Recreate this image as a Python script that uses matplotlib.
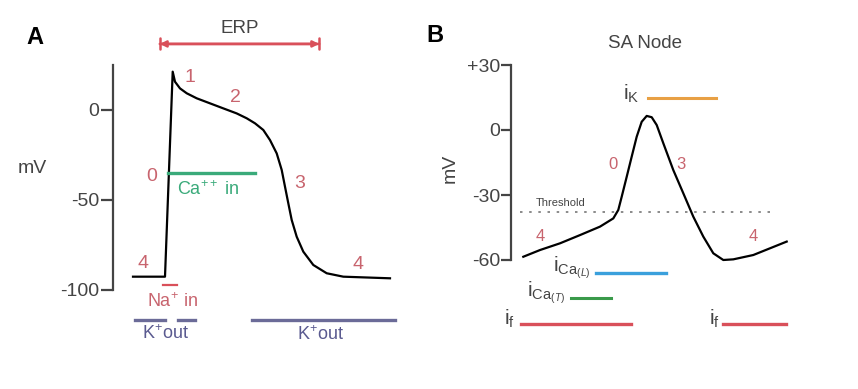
import numpy as np
import matplotlib
matplotlib.use("Agg")
import matplotlib.pyplot as plt

plt.rcParams['font.family'] = ['Liberation Sans', 'DejaVu Sans']
plt.rcParams['mathtext.fontset'] = 'custom'
plt.rcParams['mathtext.rm'] = 'Liberation Sans'
plt.rcParams['mathtext.it'] = 'Liberation Sans:italic'

# Panel A - ventricular action potential (time in ms, arbitrary origin)
t_a = [0, 32, 39.7, 42, 47, 53.7, 63.7, 77, 90.3, 103.7, 113.7, 122, 130.3, 137, 143.7, 148.7,
       152, 155.3, 158.7, 163.7, 170.3, 180.3, 193.7, 210.3, 257]
v_a = [-92.6, -92.6, 21.3, 15.7, 12.0, 9.3, 6.5, 3.7, 0.9, -1.9, -4.6, -7.4, -11.1, -16.7, -24.1, -33.3,
       -42.6, -51.8, -61.1, -70.4, -78.7, -86.1, -90.7, -92.6, -93.5]
a_ticks = [0, -50, -100]
a_ticklabels = ['0', '-50', '-100']

# Panel B - SA node action potential
t_b = [-1.7, 15, 35, 55, 75, 88.3, 93.3, 96.7, 101.7, 106.7, 111.7, 116.7, 121.7, 126.7, 131.7,
       138.3, 148.3, 158.3, 168.3, 178.3, 188.3, 198.3, 208.3, 228.3, 261.7]
v_b = [-58.5, -55.4, -52.3, -48.5, -44.6, -40.8, -36.9, -30.8, -21.6, -12.3, -3.1, 3.8, 6.5, 5.9, 2.3,
       -6.1, -18.5, -29.2, -40.0, -49.2, -56.9, -60, -59.7, -57.7, -51.5]
b_ticks = [30, 0, -30, -60]
b_ticklabels = ['+30', '0', '-30', '-60']
threshold = -37.7

# current bars: (start, end, level)
ca_in_a = (35, 122, -35)
na_in_a = (30, 44, -97)
k_out_a = [(2, 32, -116.7), (45, 62, -116.7), (119, 262, -116.7)]
erp = (24, 189, 36.7)

ik_b = (123, 191, 14.9)
ical_b = (71, 141, -65.9)
icat_b = (46, 86, -77.4)
if_b = [(-4, 106, -89.5), (198, 261, -89.5)]

red = '#d9505a'
numred = '#c8646e'
gray = '#444444'

fig = plt.figure(figsize=(8.58, 3.89), dpi=100)

# ---- Panel A
ax = fig.add_axes([93/858, 45/389, 310/858, 324/389])
ax.set_xlim(-40, 270)
ax.set_ylim(-130, 50)
ax.plot(t_a, v_a, color='black', lw=1.6, solid_joinstyle='round')
for s in ['top', 'right', 'bottom']:
    ax.spines[s].set_visible(False)
ax.spines['left'].set_position(('data', -20))
ax.spines['left'].set_bounds(-100, 25)
ax.spines['left'].set_color(gray)
ax.spines['left'].set_linewidth(1.6)
ax.set_xticks([])
ax.set_yticks(a_ticks, a_ticklabels, fontsize=14, color=gray)
ax.tick_params(axis='y', length=9, width=1.6, color=gray, pad=1)

ax.annotate('', xy=(erp[0], erp[2]), xytext=(erp[1], erp[2]),
            arrowprops=dict(arrowstyle='|-|', color=red, lw=1.8, mutation_scale=4))
ax.annotate('', xy=(erp[0], erp[2]), xytext=(erp[1], erp[2]),
            arrowprops=dict(arrowstyle='<|-|>', color=red, lw=1.8, mutation_scale=9))
ax.text((erp[0] + erp[1]) / 2, 45.5, 'ERP', ha='center', va='center', fontsize=13.5, color=gray)

ax.plot(ca_in_a[:2], [ca_in_a[2]] * 2, color='#3aaa7a', lw=2.4)
ax.text(75, -44, 'Ca$^{++}$ in', ha='center', va='center', fontsize=13, color='#3aaa7a')
ax.plot(na_in_a[:2], [na_in_a[2]] * 2, color=red, lw=1.6, clip_on=False)
ax.text(39, -106.7, 'Na$^{+}$ in', ha='center', va='center', fontsize=13, color=numred)
for s0, s1, lv in k_out_a:
    ax.plot([s0, s1], [lv, lv], color='#6b6b98', lw=2.4, clip_on=False)
ax.text(32, -124, 'K$^{+}$out', ha='center', va='center', fontsize=13, color='#5a5a90')
ax.text(187, -125, 'K$^{+}$out', ha='center', va='center', fontsize=13, color='#5a5a90')

for tx, ty, s in [(57, 18.3, '1'), (102, 6.7, '2'), (19, -36.7, '0'), (167, -40.6, '3'),
                  (10, -85, '4'), (225, -86, '4')]:
    ax.text(tx, ty, s, ha='center', va='center', fontsize=14, color=numred)

# ---- Panel B
bx = fig.add_axes([490/858, 44.5/389, 308/858, 325/389])
bx.set_xlim(-35, 273)
bx.set_ylim(-99, 51)
bx.plot(t_b, v_b, color='black', lw=1.6, solid_joinstyle='round')
bx.plot([-5, 250], [threshold, threshold], color='#777777', lw=1.2, ls=(0, (1.5, 4)))
bx.text(36, -33.8, 'Threshold', ha='center', va='center', fontsize=8, color=gray)
for s in ['top', 'right', 'bottom']:
    bx.spines[s].set_visible(False)
bx.spines['left'].set_position(('data', -14))
bx.spines['left'].set_bounds(-60, 30)
bx.spines['left'].set_color(gray)
bx.spines['left'].set_linewidth(1.6)
bx.set_xticks([])
bx.set_yticks(b_ticks, b_ticklabels, fontsize=14, color=gray)
bx.tick_params(axis='y', length=7, width=1.6, color=gray, pad=1)
bx.text(120, 40, 'SA Node', ha='center', va='center', fontsize=13.5, color=gray)

bx.plot(ik_b[:2], [ik_b[2]] * 2, color='#e8a044', lw=2.2)
bx.text(106, 16.5, r'$\mathrm{i}_{\mathrm{K}}$', ha='center', va='center', fontsize=15, color=gray)
bx.plot(ical_b[:2], [ical_b[2]] * 2, color='#3aa0dc', lw=2.4)
bx.text(47, -63.5, r'$\mathrm{i}_{\mathrm{Ca}_{(L)}}$', ha='center', va='center', fontsize=15, color=gray)
bx.plot(icat_b[:2], [icat_b[2]] * 2, color='#3a9a4a', lw=2.2)
bx.text(21, -75, r'$\mathrm{i}_{\mathrm{Ca}_{(T)}}$', ha='center', va='center', fontsize=15, color=gray)
for s0, s1, lv in if_b:
    bx.plot([s0, s1], [lv, lv], color=red, lw=2.4, clip_on=False)
bx.text(-16, -87, r'$\mathrm{i}_{\mathrm{f}}$', ha='center', va='center', fontsize=15, color=gray)
bx.text(189, -87, r'$\mathrm{i}_{\mathrm{f}}$', ha='center', va='center', fontsize=15, color=gray)

for tx, ty, s in [(88, -16, '0'), (156, -16, '3'), (15, -49, '4'), (228, -49, '4')]:
    bx.text(tx, ty, s, ha='center', va='center', fontsize=12, color=numred)

fig.text(35/858, 1 - 37/389, 'A', ha='center', va='center', fontsize=17, fontweight='bold')
fig.text(435/858, 1 - 35/389, 'B', ha='center', va='center', fontsize=17, fontweight='bold')
fig.text(32/858, 1 - 168/389, 'mV', ha='center', va='center', fontsize=14, color=gray)
fig.text(450/858, 1 - 168/389, 'mV', ha='center', va='center', fontsize=14, color=gray, rotation=90)

fig.savefig('out.png', dpi=100)
